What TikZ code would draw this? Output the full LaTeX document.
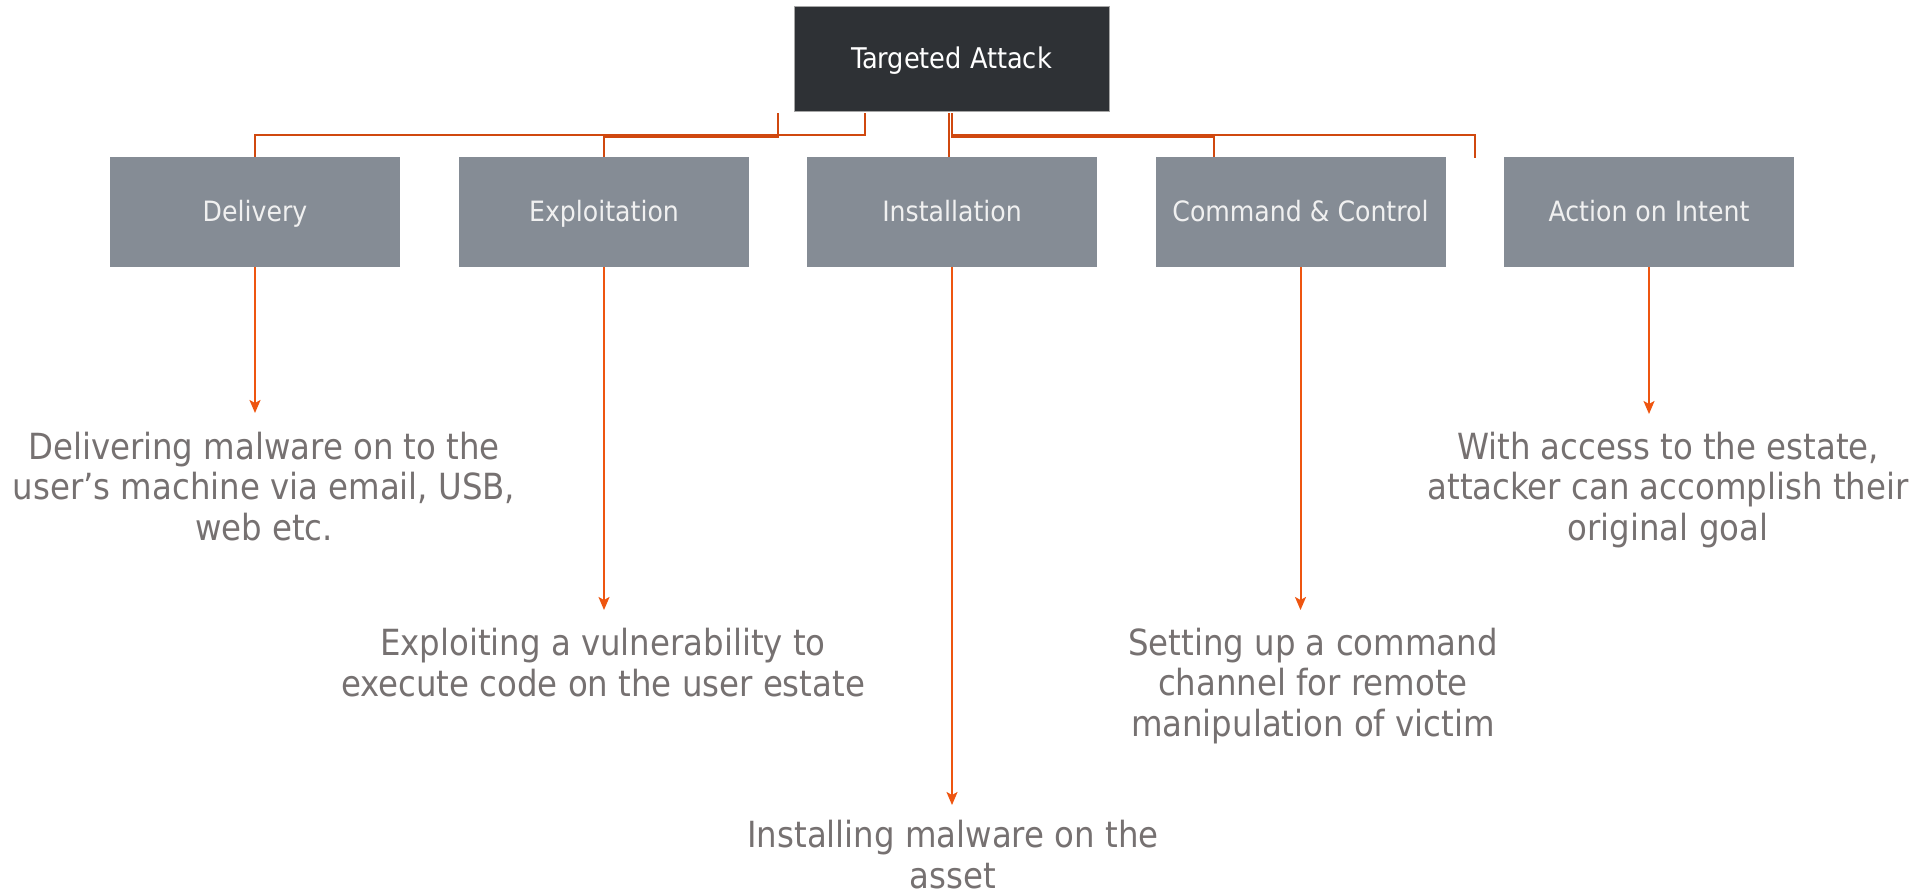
\documentclass[tikz,border=0pt]{standalone}
\usepackage{fontspec}
\IfFontExistsTF{DejaVu Sans Condensed}{\setmainfont{DejaVu Sans Condensed}}{\setmainfont{DejaVu Sans}[Scale=0.9]}
\usetikzlibrary{arrows.meta}
\definecolor{topfill}{HTML}{2E3135}
\definecolor{subfill}{HTML}{858C95}
\definecolor{desccol}{HTML}{767171}
\definecolor{conncol}{HTML}{D0480F}
\definecolor{arrcol}{HTML}{EE5510}
\begin{document}
\begin{tikzpicture}[x=1pt,y=-1pt,
  topbox/.style={fill=topfill, draw=gray!70, line width=0.8pt, minimum width=315pt, minimum height=105pt, inner sep=0pt, text=white, font=\fontsize{28.5}{32}\selectfont, text height=20pt, text depth=0pt},
  subbox/.style={fill=subfill, minimum width=290pt, minimum height=110pt, inner sep=0pt, text=white!94!black, font=\fontsize{28}{32}\selectfont, text height=20pt, text depth=0pt},
  desctext/.style={anchor=base, align=center, inner sep=0pt, text=desccol, font=\fontsize{36}{40.5}\selectfont},
  connector/.style={draw=conncol, line width=1.8pt},
  arrowline/.style={draw=arrcol, line width=2pt, -{Stealth[length=13pt,width=11pt,inset=3pt]}}
]
\fill[white] (0,0) rectangle (1921,896);
\useasboundingbox (0,0) rectangle (1921,896);

% boxes
\node[topbox] (top) at (951.5,58.5) {Targeted Attack};
\node[subbox] (del) at (255,212) {Delivery};
\node[subbox] (exp) at (604,212) {Exploitation};
\node[subbox] (ins) at (952,212) {Installation};
\node[subbox] (cc)  at (1300.5,212) {Command \& Control};
\node[subbox] (act) at (1649,212) {Action on Intent};

% descriptions (anchor base = baseline of last line)
\node[desctext] (tdel) at (264,540) {Delivering malware on to the\\user’s machine via email, USB,\\web etc.};
\node[desctext] (texp) at (603,696) {Exploiting a vulnerability to\\execute code on the user estate};
\node[desctext] (tins) at (953,888) {Installing malware on the\\asset};
\node[desctext] (tcc)  at (1313,736) {Setting up a command\\channel for remote\\manipulation of victim};
\node[desctext] (tact) at (1668,540) {With access to the estate,\\attacker can accomplish their\\original goal};

% free ends
\coordinate (eend) at (1475,158);
\coordinate (tipdel) at (255,413);
\coordinate (tipexp) at (604,610);
\coordinate (tipins) at (952,805);
\coordinate (tipcc)  at (1300.5,610);
\coordinate (tipact) at (1649,414);

% top connectors
\draw[connector] ([shift={(-86.5,2)}]top.south) -- ++(0,22) -| (del.north);
\draw[connector] ([shift={(-173.5,2)}]top.south) -- ++(0,23.5) -| (exp.north);
\draw[connector] ([shift={(-2.5,2)}]top.south) -- ([xshift=-3pt]ins.north);
\draw[connector] ([shift={(0.5,2)}]top.south) -- ++(0,23.5) -| ([xshift=-86.5pt]cc.north);
\draw[connector] ([shift={(0.5,2)}]top.south) -- ++(0,22) -| (eend);

% down arrows
\draw[arrowline] (del.south) -- (tipdel);
\draw[arrowline] (exp.south) -- (tipexp);
\draw[arrowline] (ins.south) -- (tipins);
\draw[arrowline] (cc.south) -- (tipcc);
\draw[arrowline] (act.south) -- (tipact);
\end{tikzpicture}
\end{document}
